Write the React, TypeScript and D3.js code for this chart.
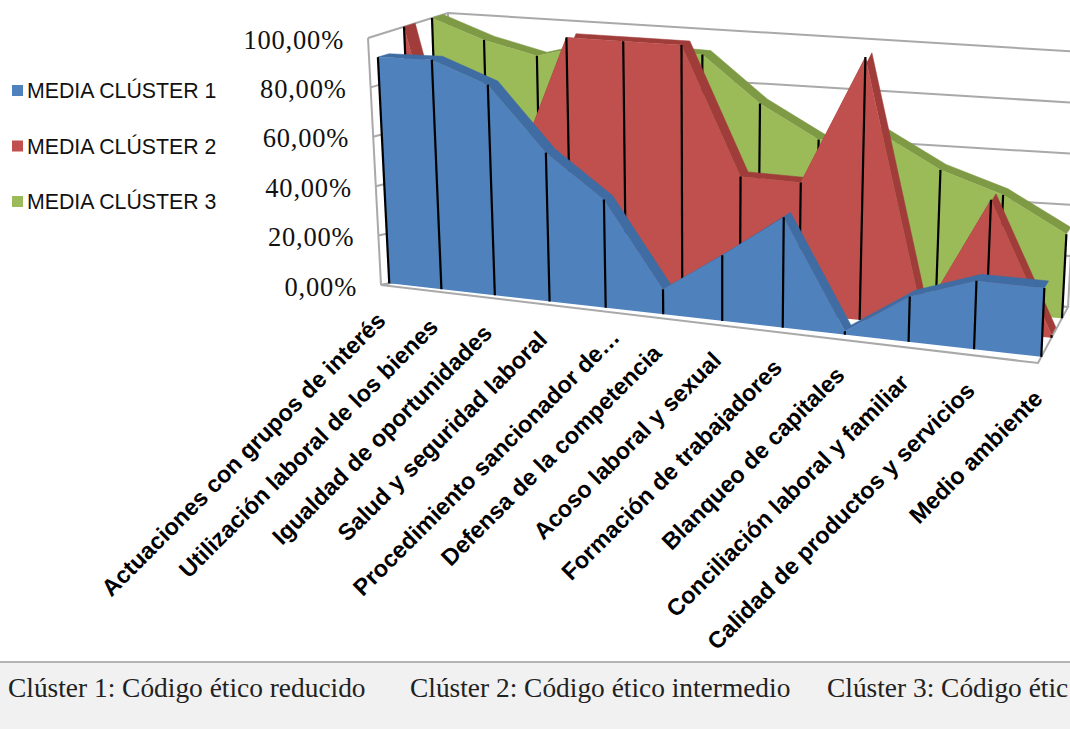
import React from "react";
import * as d3 from "d3";

const categories = [
  "Actuaciones con grupos de interés",
  "Utilización laboral de los bienes",
  "Igualdad de oportunidades",
  "Salud y seguridad laboral",
  "Procedimiento sancionador de…",
  "Defensa de la competencia",
  "Acoso laboral y sexual",
  "Formación de trabajadores",
  "Blanqueo de capitales",
  "Conciliación laboral y familiar",
  "Calidad de productos y servicios",
  "Medio ambiente",
];
const cluster1 = [91.2, 91.7, 83.4, 58.4, 42.1, 9.6, 25, 41.7, 1.3, 16.8, 25.1, 25];
const cluster2 = [100, 14, 45.4, 100, 100, 100, 50.9, 50.4, 100, 4, 49.6, 1];
const cluster3 = [100, 92.7, 87.8, 93.5, 93, 92.4, 74.8, 62.4, 66.6, 53.8, 45.8, 32.4];
const valueTicks = [0, 20, 40, 60, 80, 100];
const legendLabels = ["MEDIA CLÚSTER 1", "MEDIA CLÚSTER 2", "MEDIA CLÚSTER 3"];
const footerLabels = [
  "Clúster 1: Código ético reducido",
  "Clúster 2: Código ético intermedio",
  "Clúster 3: Código étic",
];
const footerX = [8, 410, 827];

type Pt = [number, number];
const lerp = (a: Pt, b: Pt, k: number): Pt => [a[0] + (b[0] - a[0]) * k, a[1] + (b[1] - a[1]) * k];

// Corners of the plot box on screen: floor and ceiling, front and back edges
const floorFrontL: Pt = [381, 285];
const floorFrontR: Pt = [1038, 363];
const floorBackL: Pt = [456, 270];
const floorBackR: Pt = [1068, 307];
const topFrontL: Pt = [368, 38];
const topFrontR: Pt = [1050, 85];
const topBackL: Pt = [448, 13];
const topBackR: Pt = [1082, 52];

const xScale = d3.scaleLinear().domain([0, categories.length - 1]).range([0, 1]);
const vScale = d3.scaleLinear().domain([0, 100]).range([0, 1]);
const foreshorten = 1.15;

// Perspective projection of (category index, value, depth) onto the page
function project(t: number, value: number, depth: number): Pt {
  const u = xScale(t);
  const s = u / (u + foreshorten * (1 - u));
  const v = vScale(value);
  const floor = lerp(lerp(floorFrontL, floorFrontR, s), lerp(floorBackL, floorBackR, s), depth);
  const top = lerp(lerp(topFrontL, topFrontR, s), lerp(topBackL, topBackR, s), depth);
  return lerp(floor, top, v);
}

const path = d3.line<Pt>().x((p) => p[0]).y((p) => p[1]);
const closed = (pts: Pt[]) => path(pts) + "Z";

const seriesDefs = [
  { values: cluster3, depth: 0.8, face: "#9BBB59", strip: "#7E9A45" },
  { values: cluster2, depth: 0.45, face: "#C0504D", strip: "#A03D3B" },
  { values: cluster1, depth: 0.11, face: "#4F81BD", strip: "#3F6CA3" },
];
const stripDepth = 0.14;
const legendColors = ["#4F81BD", "#C0504D", "#9BBB59"];
const axisGray = "#a9a9a9";

const pctFormat = d3
  .formatLocale({ decimal: ",", thousands: ".", grouping: [3], currency: ["", "€"] })
  .format(".2f");

function Series({ values, depth, face, strip }: (typeof seriesDefs)[number]) {
  const last = values.length - 1;
  const front = values.map((v, i) => project(i, v, depth));
  const back = values.map((v, i) => project(i, v, depth + stripDepth));
  const area = [project(0, 0, depth), ...front, project(last, 0, depth)];
  return (
    <g>
      <path d={closed([...back, ...front.slice().reverse()])} fill={strip} stroke={strip} strokeWidth={0.5} />
      <path d={closed(area)} fill={face} />
      {values.map((v, i) => {
        const a = project(i, v, depth);
        const b = project(i, 0, depth);
        return <line key={i} x1={a[0]} y1={a[1]} x2={b[0]} y2={b[1]} stroke="#000" strokeWidth={2.2} />;
      })}
    </g>
  );
}

export default function App() {
  const last = categories.length - 1;
  const box = (v: number, t: number, d: number) => project(t, v, d);
  return (
    <svg
      width={1070}
      height={729}
      style={{ position: "absolute", left: 0, top: 0, background: "#fff" }}
    >
      {/* Side wall and back wall with their gridlines */}
      <g fill="none" stroke={axisGray} strokeWidth={2}>
        {valueTicks.map((v) => (
          <path key={v} d={path([box(v, 0, 0), box(v, 0, 1), box(v, last, 1)]) as string} />
        ))}
        <path d={path([box(0, 0, 0), box(100, 0, 0)]) as string} />
        <path d={path([box(0, 0, 1), box(100, 0, 1)]) as string} />
        <path d={path([box(0, last, 1), box(100, last, 1)]) as string} />
        <path d={closed([box(0, 0, 0), box(0, last, 0), box(0, last, 1), box(0, 0, 1)]) as string} fill="#fff" />
      </g>

      {seriesDefs.map((s, i) => (
        <Series key={i} {...s} />
      ))}

      {/* Value axis */}
      <g fontFamily="'Liberation Serif'" fontSize={26.5} letterSpacing={0.8} fill="#111" textAnchor="end">
        {valueTicks.map((v) => {
          const p = box(v, 0, 0);
          return (
            <text key={v} x={p[0] - 24} y={p[1] + 10.5}>
              {pctFormat(v)}%
            </text>
          );
        })}
      </g>

      {/* Category axis; the shortened label sits further along its diagonal */}
      <g fontFamily="'Liberation Sans'" fontWeight="bold" fontSize={23.4} fill="#000" textAnchor="end">
        {categories.map((c, i) => {
          const p = box(0, i, 0);
          const shifted = c.endsWith("…");
          const dx = shifted ? 22 : 6;
          const dy = shifted ? 28 : 37;
          return (
            <text key={c} transform={`translate(${p[0] + dx},${p[1] + dy}) rotate(-45)`}>
              {c}
            </text>
          );
        })}
      </g>

      {/* Legend */}
      <g fontFamily="'Liberation Sans'" fontSize={21.3} fill="#111">
        {legendLabels.map((l, i) => (
          <g key={l} transform={`translate(0,${90.5 + i * 55.5})`}>
            <rect x={12} y={-5.5} width={11} height={11} fill={legendColors[i]} />
            <text x={27} y={7.5}>
              {l}
            </text>
          </g>
        ))}
      </g>

      {/* Footer band */}
      <rect x={0} y={662} width={1070} height={67} fill="#f1f1f1" />
      <line x1={0} x2={1070} y1={662} y2={662} stroke="#b3b3b3" strokeWidth={2} />
      <g fontFamily="'Liberation Serif'" fontSize={27.4} fill="#222">
        {footerLabels.map((l, i) => (
          <text key={l} x={footerX[i]} y={697}>
            {l}
          </text>
        ))}
      </g>
    </svg>
  );
}
